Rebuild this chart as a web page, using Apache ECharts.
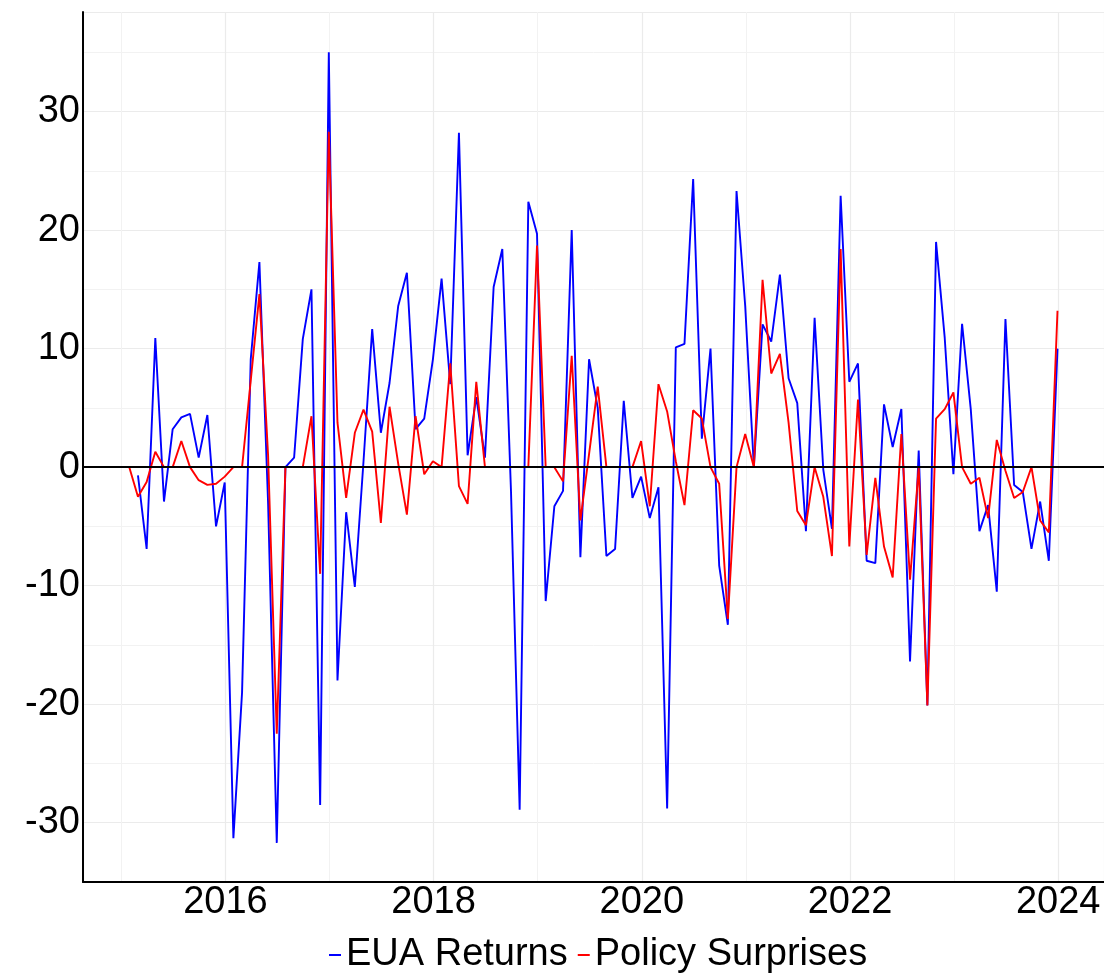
<!DOCTYPE html>
<html>
<head>
<meta charset="utf-8">
<script src="https://cdn.jsdelivr.net/npm/echarts@6/dist/echarts.min.js"></script>
<style>
  html, body { margin: 0; padding: 0; background: #ffffff; }
  #chart { width: 1104px; height: 973px; }
</style>
</head>
<body>
<div id="chart"></div>
<script>
// Monthly observations, Jan 2015 .. Dec 2023 (108 months)
const startYear = 2015;
const monthCount = 108;
const seriesNames = ['EUA Returns', 'Policy Surprises'];

// EUA Returns (blue); first month has no return
const euaReturns = [
  null, -0.7, -6.9, 10.9, -2.9, 3.2, 4.2, 4.5, 0.8, 4.4, -5.0, -1.3,
  -31.3, -19.0, 9.1, 17.3, -3.0, -31.7, 0.0, 0.8, 10.8, 15.0, -28.5, 35.0,
  -18.0, -3.8, -10.1, 0.5, 11.65, 2.9, 7.1, 13.6, 16.4, 3.2, 4.1, 9.1,
  15.9, 7.0, 28.2, 1.0, 5.9, 0.8, 15.2, 18.4, -2.0, -28.9, 22.4, 19.7,
  -11.3, -3.3, -2.0, 20.0, -7.6, 9.1, 5.0, -7.5, -6.9, 5.6, -2.6, -0.8,
  -4.3, -1.7, -28.8, 10.1, 10.4, 24.3, 2.4, 10.0, -8.3, -13.3, 23.3, 13.6,
  0.0, 12.05, 10.6, 16.25, 7.5, 5.4, -5.4, 12.6, -0.2, -5.2, 22.9, 7.2,
  8.75, -7.9, -8.1, 5.3, 1.7, 4.9, -16.4, 1.4, -20.1, 19.0, 10.9, -0.6,
  12.1, 4.9, -5.4, -3.2, -10.5, 12.5, -1.5, -2.1, -6.9, -2.9, -7.9, 10.0
];

// Policy Surprises (red)
const policySurprises = [
  0.0, -2.5, -1.25, 1.3, 0.0, 0.0, 2.2, 0.0, -1.1, -1.5, -1.4, -0.8,
  0.0, 0.0, 7.3, 14.6, 1.0, -22.5, 0.0, 0.0, 0.0, 4.3, -9.0, 28.3,
  3.75, -2.6, 2.9, 4.85, 3.0, -4.7, 5.1, 0.3, -4.0, 4.3, -0.6, 0.5,
  0.0, 8.75, -1.6, -3.1, 7.2, 0.0, 0.0, 0.0, 0.0, 0.0, 0.0, 18.7,
  0.0, 0.0, -1.2, 9.4, -4.5, 1.1, 6.8, 0.0, 0.0, 0.0, 0.0, 2.2,
  -3.3, 7.0, 4.7, 0.5, -3.2, 4.8, 4.1, 0.0, -1.4, -12.8, 0.0, 2.8,
  0.0, 15.8, 7.9, 9.55, 3.75, -3.7, -4.9, 0.0, -2.5, -7.5, 18.4, -6.7,
  5.7, -7.4, -0.9, -6.7, -9.3, 2.8, -9.5, 0.0, -20.1, 4.1, 4.9, 6.3,
  0.0, -1.4, -0.9, -4.3, 2.3, -0.3, -2.6, -2.1, 0.0, -4.5, -5.5, 13.2
];

// time of each observation as decimal year (late in each month)
const dates = [];
for (let i = 0; i < monthCount; i++) {
  const y = startYear + Math.floor(i / 12);
  const m = i % 12;
  dates.push(y + (m + 0.92) / 12);
}

const FONT = '"Liberation Sans", Arial, sans-serif';
const blueData = dates.map((d, i) => [d, euaReturns[i]]);
const redData = dates.map((d, i) => [d, policySurprises[i]]);

const chart = echarts.init(document.getElementById('chart'), null, { renderer: 'canvas' });
chart.setOption({
  animation: false,
  backgroundColor: '#ffffff',
  textStyle: { fontFamily: FONT },
  grid: { left: 83, right: 0, top: 12, bottom: 91, containLabel: false },
  legend: {
    data: seriesNames,
    left: 329,
    top: 936,
    icon: 'rect',
    itemWidth: 12,
    itemHeight: 2,
    itemGap: 10,
    padding: 0,
    textStyle: { fontSize: 38, color: '#000000', fontFamily: FONT }
  },
  xAxis: {
    type: 'value',
    min: 2014.632,
    max: 2024.44,
    splitNumber: 5,
    axisLine: { show: true, onZero: false, lineStyle: { color: '#000000', width: 2 } },
    axisTick: { show: false },
    axisLabel: {
      show: true, fontSize: 38, color: '#000000', fontFamily: FONT, margin: 2,
      showMinLabel: false, showMaxLabel: false,
      formatter: v => String(Math.round(v))
    },
    splitLine: { show: true, lineStyle: { color: '#EBEBEB', width: 1.2 } },
    minorTick: { show: false, splitNumber: 2 },
    minorSplitLine: { show: true, lineStyle: { color: '#F2F2F2', width: 1 } }
  },
  yAxis: {
    type: 'value',
    min: -35,
    max: 38.4,
    splitNumber: 7,
    axisLine: { show: true, onZero: false, lineStyle: { color: '#000000', width: 2 } },
    axisTick: { show: false },
    axisLabel: {
      show: true, fontSize: 38, color: '#000000', fontFamily: FONT, margin: 3,
      showMinLabel: false, showMaxLabel: false,
      formatter: v => String(Math.round(v))
    },
    splitLine: { show: true, lineStyle: { color: '#EBEBEB', width: 1.2 } },
    minorTick: { show: false, splitNumber: 2 },
    minorSplitLine: { show: true, lineStyle: { color: '#F2F2F2', width: 1 } }
  },
  series: [
    {
      name: seriesNames[0],
      type: 'line',
      data: blueData,
      showSymbol: false,
      connectNulls: false,
      lineStyle: { color: '#0000FF', width: 1.9 },
      itemStyle: { color: '#0000FF' },
      z: 2
    },
    {
      name: seriesNames[1],
      type: 'line',
      data: redData,
      showSymbol: false,
      lineStyle: { color: '#FF0000', width: 1.9 },
      itemStyle: { color: '#FF0000' },
      z: 3,
      markLine: {
        silent: true,
        symbol: ['none', 'none'],
        label: { show: false },
        lineStyle: { color: '#000000', width: 1.8, type: 'solid' },
        data: [{ yAxis: 0 }]
      }
    }
  ]
});
</script>
</body>
</html>
